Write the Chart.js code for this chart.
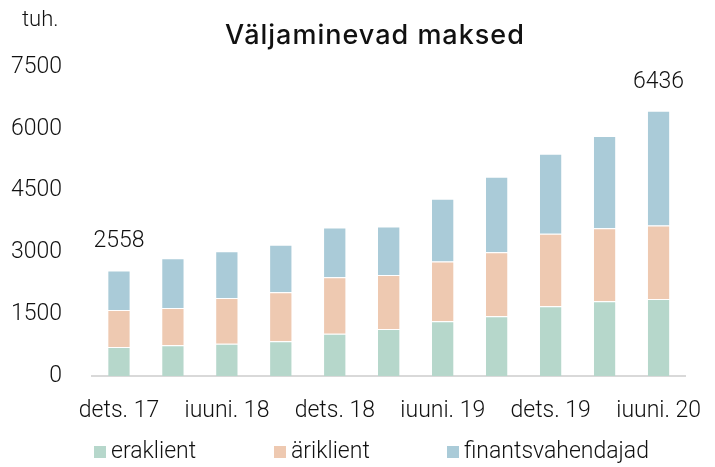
<!DOCTYPE html>
<html>
<head>
<meta charset="utf-8">
<script src="https://cdn.jsdelivr.net/npm/chart.js@4"></script>
<style>
  html, body { margin: 0; padding: 0; background: #fff; }
  #wrap { width: 715px; height: 467px; position: relative; }
</style>
</head>
<body>
<div id="wrap"><canvas id="chart" width="715" height="467"></canvas></div>
<script>
const labels = ["dets. 17", "märts 18", "juuni. 18", "sept. 18", "dets. 18", "märts 19",
                "juuni. 19", "sept. 19", "dets. 19", "märts 20", "juuni. 20"];
const eraklient = [705, 746, 785, 843, 1028, 1142, 1329, 1450, 1693, 1815, 1871];
const ariklient = [899, 906, 1110, 1190, 1370, 1312, 1449, 1556, 1758, 1774, 1781];
const finantsvahendajad = [954, 1208, 1135, 1150, 1206, 1174, 1523, 1830, 1944, 2236, 2784];
const yTicks = [0, 1500, 3000, 4500, 6000, 7500];
const totalLabelIdx = [0, 10];

const lightFont = "Roboto, 'Liberation Sans', sans-serif";

// title, unit, totals and legend drawn on canvas
const extras = {
    id: "extras",
    afterDraw(chart) {
        const ctx = chart.ctx;
        ctx.save();
        ctx.fillStyle = "#111";
        ctx.textBaseline = "middle";

        ctx.font = "300 22px " + lightFont;
        ctx.textAlign = "left";
        ctx.fillText("tuh.", 22, 20);

        ctx.font = "500 27px Inter, 'Liberation Sans', sans-serif";
        ctx.letterSpacing = "1px";
        ctx.textAlign = "center";
        ctx.fillText("Väljaminevad maksed", 375, 36);
        ctx.letterSpacing = "0px";

        // totals above first and last bar
        const last = chart.getDatasetMeta(chart.data.datasets.length - 1);
        ctx.font = "300 23px " + lightFont;
        totalLabelIdx.forEach(i => {
            const total = eraklient[i] + ariklient[i] + finantsvahendajad[i];
            const bar = last.data[i];
            ctx.fillText(String(total), bar.x, bar.y - 29);
        });

        // legend
        const legendX = [94, 274, 447];
        const legendY = 452;
        ctx.font = "300 23px " + lightFont;
        ctx.textAlign = "left";
        chart.data.datasets.forEach((ds, k) => {
            ctx.fillStyle = ds.backgroundColor;
            ctx.fillRect(legendX[k], legendY - 6, 12, 12);
            ctx.fillStyle = "#111";
            ctx.fillText(ds.label, legendX[k] + 17, legendY);
        });
        ctx.restore();
    }
};

new Chart(document.getElementById("chart").getContext("2d"), {
    type: "bar",
    data: {
        labels: labels,
        datasets: [
            { label: "eraklient", data: eraklient, backgroundColor: "#b6d7cb" },
            { label: "äriklient", data: ariklient, backgroundColor: "#eec9b1" },
            { label: "finantsvahendajad", data: finantsvahendajad, backgroundColor: "#aacbd8" }
        ].map(ds => ({
            ...ds,
            borderColor: "rgba(255,255,255,0.8)",
            borderWidth: { top: 1, left: 0, right: 0, bottom: 0 },
            borderSkipped: false,
            categoryPercentage: 1,
            barPercentage: 0.4
        }))
    },
    options: {
        responsive: false,
        animation: false,
        layout: { padding: { top: 67, right: 20, bottom: 50, left: 0 } },
        plugins: {
            legend: { display: false },
            title: { display: false },
            tooltip: { enabled: false }
        },
        scales: {
            x: {
                stacked: true,
                grid: { display: false },
                border: { display: true, color: "#d9d9d9", width: 2 },
                ticks: {
                    autoSkip: false,
                    maxRotation: 0,
                    padding: 13,
                    color: "#111",
                    font: { family: lightFont, size: 23, weight: 300 },
                    callback: (v, i) => i % 2 === 0 ? labels[i] : ""
                },
                afterFit: s => { s.height = 41; }
            },
            y: {
                stacked: true,
                min: 0,
                max: 7500,
                grid: { display: false },
                border: { display: false },
                afterBuildTicks: s => { s.ticks = yTicks.map(v => ({ value: v })); },
                ticks: {
                    padding: 22,
                    color: "#111",
                    font: { family: lightFont, size: 23, weight: 300 },
                    callback: v => String(v)
                },
                afterFit: s => { s.width = 92; }
            }
        }
    },
    plugins: [extras]
});
</script>
</body>
</html>
